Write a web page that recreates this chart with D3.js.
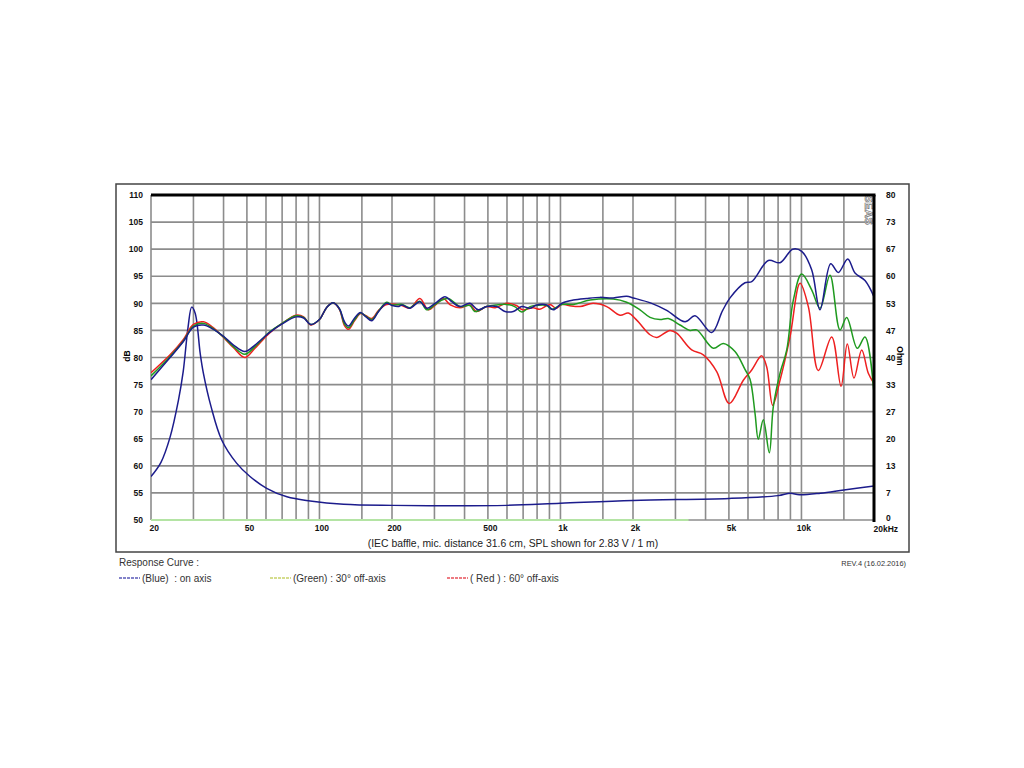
<!doctype html>
<meta charset="utf-8">
<style>
    body { margin: 0; background: #fff; }
    svg text { font-family: "Liberation Sans", Arial, sans-serif; }
</style>
<body>
<script src="https://d3js.org/d3.v7.min.js"></script>
<script>
    // axis ticks
    const dbTicks = [50, 55, 60, 65, 70, 75, 80, 85, 90, 95, 100, 105, 110];
    const ohmLabels = ['0', '7', '13', '20', '27', '33', '40', '47', '53', '60', '67', '73', '80'];
    const freqTicks = [20, 50, 100, 200, 500, 1000, 2000, 5000, 10000, 20000];
    const freqLabels = ['20', '50', '100', '200', '500', '1k', '2k', '5k', '10k', '20kHz'];
    const gridFreqs = [20, 30, 40, 50, 60, 70, 80, 90, 100, 150, 200, 300, 400, 500, 600, 700, 800, 900,
        1000, 1500, 2000, 3000, 4000, 5000, 6000, 7000, 8000, 9000, 10000, 15000, 20000];

    // SPL curves [Hz, dB]
    const blueSpl = [[20, 75.9], [24, 80.0], [27.2, 82.9], [30, 85.6], [33, 86.0], [36, 85.3], [40, 83.9], [44, 82.3],
        [49, 81.1], [54, 82.3], [62, 84.6], [70, 86.2], [80, 87.5], [86, 87.3], [92, 86.1], [100, 87.0], [107, 89.2],
        [114, 90.1], [121, 89.0], [127, 86.6], [132, 85.8], [140, 87.3], [148, 88.3], [156, 87.5], [165, 86.8],
        [176, 88.5], [190, 90.0], [200, 89.6], [212, 89.4], [220, 89.7], [237, 89.1], [261, 90.3], [279, 89.1],
        [302, 90.0], [332, 91.2], [354, 90.3], [383, 89.4], [421, 90.0], [456, 88.8], [494, 89.4], [544, 89.4],
        [589, 88.5], [637, 88.5], [691, 89.4], [748, 89.1], [797, 89.7], [877, 89.7], [934, 88.8], [1012, 90.0],
        [1131, 90.6], [1285, 90.9], [1459, 91.1], [1656, 91.0], [1883, 91.3], [2005, 91.0], [2391, 90.0],
        [2760, 88.7], [3288, 86.6], [3617, 87.7], [4243, 84.6], [4700, 88.6], [5054, 91.0], [5830, 93.8],
        [6218, 94.0], [7287, 97.9], [8149, 97.5], [9199, 100.0], [10024, 99.6], [11025, 96.2], [11937, 88.8],
        [13222, 97.3], [14219, 95.7], [15559, 98.2], [16680, 95.6], [18353, 94.2], [20000, 91.2]];
    const greenSpl = [[20, 76.6], [24, 80.2], [27.2, 83.0], [30, 85.8], [33, 86.3], [36, 85.4], [40, 83.8], [44, 82.0],
        [49, 80.6], [54, 82.0], [62, 84.7], [70, 86.3], [80, 87.7], [86, 87.4], [92, 86.1], [100, 87.0], [107, 89.2],
        [114, 90.1], [121, 89.0], [127, 86.2], [132, 85.5], [140, 87.0], [148, 88.2], [156, 87.6], [165, 87.0],
        [176, 88.6], [190, 90.2], [200, 89.7], [220, 89.8], [237, 89.2], [261, 90.4], [279, 88.8], [302, 89.8],
        [322, 90.6], [343, 90.9], [383, 89.4], [421, 89.6], [441, 88.5], [494, 89.4], [544, 89.7], [597, 89.8],
        [646, 89.4], [691, 88.4], [748, 89.4], [797, 89.6], [877, 89.6], [919, 88.9], [1012, 89.8], [1131, 89.8],
        [1327, 90.6], [1656, 90.8], [1883, 90.2], [2138, 88.8], [2353, 87.4], [2588, 87.0], [2802, 87.2],
        [3134, 86.0], [3449, 85.0], [3677, 85.1], [4309, 81.7], [4740, 82.6], [5300, 81.1], [5830, 77.8],
        [6118, 76.0], [6417, 69.7], [6622, 64.9], [6946, 68.5], [7356, 62.4], [7641, 70.9], [8149, 77.1],
        [8689, 81.4], [9253, 90.6], [10024, 95.4], [11025, 92.5], [11937, 89.1], [13134, 95.2], [14447, 85.1],
        [15406, 87.4], [17051, 81.7], [18353, 83.8], [20000, 73.4]];
    const redSpl = [[20, 77.2], [24, 80.5], [27.2, 83.3], [30, 86.1], [33, 86.6], [36, 85.6], [40, 83.7], [44, 81.8],
        [49, 80.0], [54, 81.7], [62, 84.5], [70, 86.3], [80, 87.8], [86, 87.5], [92, 86.0], [100, 87.0], [107, 89.2],
        [114, 90.1], [121, 88.9], [127, 85.9], [132, 85.2], [140, 86.8], [148, 88.1], [156, 87.7], [165, 87.2],
        [176, 88.7], [190, 89.8], [216, 89.7], [237, 89.1], [261, 90.9], [283, 88.8], [308, 90.0], [327, 90.9],
        [349, 89.7], [383, 89.2], [421, 89.7], [448, 88.5], [494, 89.4], [536, 89.2], [597, 90.0], [656, 89.6],
        [698, 88.8], [770, 89.2], [820, 88.9], [904, 89.8], [960, 89.1], [1012, 89.8], [1082, 89.6], [1205, 89.4],
        [1365, 90.0], [1556, 89.4], [1766, 87.8], [1912, 88.2], [2072, 86.9], [2353, 84.2], [2508, 83.7],
        [2848, 85.0], [3036, 84.5], [3504, 81.4], [3915, 80.5], [4450, 77.4], [5018, 71.5], [5739, 75.8],
        [6218, 77.7], [6840, 80.3], [7172, 78.3], [7598, 71.2], [8149, 75.8], [8965, 83.8], [9862, 93.7],
        [10680, 89.4], [11748, 77.6], [13352, 83.8], [14597, 74.7], [15497, 82.5], [16520, 76.2], [17783, 81.4],
        [18943, 77.1], [20000, 75.2]];

    // impedance curves [Hz, Ohm]
    const blueImp = [[20, 10.7], [22, 14.2], [24, 20.4], [26, 29.5], [27.2, 36.5], [28.5, 47.5], [29.5, 52.4],
        [30.5, 50.9], [32, 41.0], [33, 36.1], [35.5, 27.9], [39.3, 19.7], [45.3, 14.0], [51.5, 10.7], [60.4, 7.8],
        [73.3, 5.7], [91.5, 4.7], [126, 3.9], [202, 3.6], [350, 3.5], [600, 3.6], [1000, 4.1], [2000, 4.8],
        [5000, 5.3], [8000, 6.0], [9000, 6.6], [9800, 6.2], [12000, 6.6], [15000, 7.4], [20000, 8.4]];
    const greenImp = [[20, 0], [3400, 0]];

    const legendItems = [
        {label: '(Blue)  : on axis', color: '#5a5ab8', x: 119},
        {label: '(Green) : 30° off-axis', color: '#c8d26a', x: 270},
        {label: '( Red ) : 60° off-axis', color: '#e8505a', x: 447}
    ];

    const plotLeft = 151, plotRight = 874, plotTop = 195, plotBottom = 520;

    const svg = d3.select('body')
        .append('svg')
        .attr('width', 1024)
        .attr('height', 768);

    const x = d3.scaleLog().domain([20, 20000]).range([plotLeft, plotRight]);
    const y = d3.scaleLinear().domain([50, 110]).range([plotBottom, plotTop]);
    const yOhm = d3.scaleLinear().domain([0, 80]).range([plotBottom, plotTop]);

    // outer frame
    svg.append('rect')
        .attr('x', 116).attr('y', 184)
        .attr('width', 793).attr('height', 368)
        .attr('fill', 'none').attr('stroke', '#444').attr('stroke-width', 1.5);

    // grid
    svg.append('g').selectAll('line')
        .data(dbTicks)
        .enter().append('line')
        .attr('x1', plotLeft).attr('x2', plotRight)
        .attr('y1', d => y(d)).attr('y2', d => y(d))
        .attr('stroke', '#8c8c8c').attr('stroke-width', 1.6);
    svg.append('g').selectAll('line')
        .data(gridFreqs)
        .enter().append('line')
        .attr('x1', d => x(d)).attr('x2', d => x(d))
        .attr('y1', plotTop).attr('y2', plotBottom)
        .attr('stroke', '#8c8c8c').attr('stroke-width', 1.6);

    // logo
    svg.append('text')
        .attr('transform', 'translate(865, 195) rotate(90)')
        .attr('font-size', 11).attr('font-weight', 'bold')
        .attr('fill', '#fff').attr('stroke', '#777').attr('stroke-width', 0.7)
        .text('SEAS');

    // curves
    svg.append('clipPath').attr('id', 'plot')
        .append('rect').attr('x', plotLeft).attr('y', plotTop - 2)
        .attr('width', plotRight - plotLeft).attr('height', plotBottom - plotTop + 4);

    const splLine = d3.line().x(d => x(d[0])).y(d => y(d[1])).curve(d3.curveCatmullRom.alpha(0.5));
    const impLine = d3.line().x(d => x(d[0])).y(d => yOhm(d[1])).curve(d3.curveCatmullRom.alpha(0.5));

    const curves = svg.append('g').attr('clip-path', 'url(#plot)');
    curves.append('path').attr('d', impLine(greenImp))
        .attr('fill', 'none').attr('stroke', '#b4e4a4').attr('stroke-width', 2.2);
    curves.append('path').attr('d', impLine(blueImp))
        .attr('fill', 'none').attr('stroke', '#1c1c8c').attr('stroke-width', 1.5);
    curves.append('path').attr('d', splLine(redSpl))
        .attr('fill', 'none').attr('stroke', '#ee2020').attr('stroke-width', 1.5);
    curves.append('path').attr('d', splLine(greenSpl))
        .attr('fill', 'none').attr('stroke', '#1f9a1f').attr('stroke-width', 1.5);
    curves.append('path').attr('d', splLine(blueSpl))
        .attr('fill', 'none').attr('stroke', '#1c1c8c').attr('stroke-width', 1.5);

    // heavy top and right edges
    svg.append('line').attr('x1', plotLeft).attr('x2', plotRight + 1.5).attr('y1', plotTop).attr('y2', plotTop)
        .attr('stroke', '#000').attr('stroke-width', 3);
    svg.append('line').attr('x1', plotRight).attr('x2', plotRight).attr('y1', plotTop).attr('y2', plotBottom + 2)
        .attr('stroke', '#000').attr('stroke-width', 3);

    // axes
    const yAxis = svg.append('g')
        .attr('transform', `translate(${plotLeft}, 0)`)
        .call(d3.axisLeft(y).tickValues(dbTicks).tickSize(0).tickPadding(8));
    const ohmAxis = svg.append('g')
        .attr('transform', `translate(${plotRight}, 0)`)
        .call(d3.axisRight(yOhm).tickValues(ohmLabels.map((d, i) => i * 80 / 12))
            .tickFormat((d, i) => ohmLabels[i]).tickSize(0).tickPadding(12));
    const xAxis = svg.append('g')
        .attr('transform', `translate(0, ${plotBottom})`)
        .call(d3.axisBottom(x).tickValues(freqTicks).tickFormat((d, i) => freqLabels[i]).tickSize(0).tickPadding(5));

    [yAxis, ohmAxis, xAxis].forEach(g => {
        g.select('.domain').remove();
        g.selectAll('text')
            .attr('font-family', '"Liberation Sans", Arial, sans-serif')
            .attr('font-size', 8.5).attr('font-weight', 'bold').attr('fill', '#111');
    });
    ohmAxis.selectAll('text').filter((d, i) => i === 0).attr('y', -2.5);
    xAxis.selectAll('text')
        .attr('text-anchor', (d, i) => (i === 0 || i === freqTicks.length - 1) ? 'start' : 'middle')
        .attr('dx', (d, i) => i === 0 ? -2 : (i === freqTicks.length - 1 ? -1 : 2));
    xAxis.selectAll('text').filter((d, i) => i === freqTicks.length - 1).attr('y', 6);

    svg.append('text')
        .attr('transform', 'translate(130, 356) rotate(-90)')
        .attr('text-anchor', 'middle').attr('font-size', 8.5).attr('font-weight', 'bold')
        .text('dB');
    svg.append('text')
        .attr('transform', 'translate(897, 356) rotate(90)')
        .attr('text-anchor', 'middle').attr('font-size', 8.5).attr('font-weight', 'bold')
        .text('Ohm');

    svg.append('text')
        .attr('x', 513).attr('y', 547)
        .attr('text-anchor', 'middle').attr('font-size', 10.4).attr('fill', '#222')
        .text('(IEC baffle, mic. distance 31.6 cm, SPL shown for 2.83 V / 1 m)');

    // legend
    svg.append('text')
        .attr('x', 119).attr('y', 566)
        .attr('font-size', 10).attr('fill', '#333')
        .text('Response Curve :');
    svg.append('text')
        .attr('x', 906).attr('y', 566)
        .attr('text-anchor', 'end').attr('font-size', 7.4).attr('fill', '#333')
        .text('REV.4 (16.02.2016)');

    const legend = svg.append('g').selectAll('g')
        .data(legendItems)
        .enter().append('g')
        .attr('transform', d => `translate(${d.x}, 578)`);
    legend.append('line')
        .attr('x1', 0).attr('x2', 21).attr('y1', 0).attr('y2', 0)
        .attr('stroke', d => d.color).attr('stroke-width', 1.5)
        .attr('stroke-dasharray', '3,1');
    legend.append('text')
        .attr('x', 23).attr('y', 3.5)
        .attr('font-size', 10).attr('fill', '#333')
        .style('white-space', 'pre')
        .text(d => d.label);
</script>
